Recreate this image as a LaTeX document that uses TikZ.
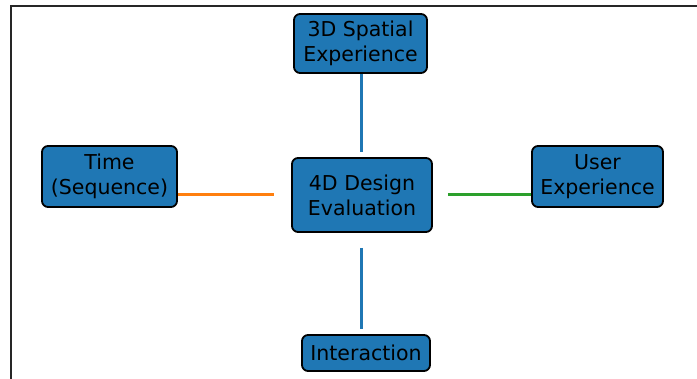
\documentclass[tikz,border=0pt]{standalone}
\usepackage{fontspec}
\setmainfont{DejaVu Sans}
\definecolor{mblue}{HTML}{1F77B4}
\definecolor{morange}{HTML}{FF7F0E}
\definecolor{mgreen}{HTML}{2CA02C}
\pgfdeclarelayer{bg}
\pgfsetlayers{bg,main}
\begin{document}
\begin{tikzpicture}[x=1pt,y=-1pt,
  box/.style={draw=black,line width=1.8pt,fill=mblue,rounded corners=6pt,
    align=center,inner sep=0pt,font=\fontsize{20.5}{25}\selectfont,text=black},
  link/.style={line width=3pt}]
\useasboundingbox (0,0) rectangle (697,379);
\draw[line width=2pt,black!85] (10.5,380) -- (10.5,6) -- (698,6);
\node[box,minimum width=133pt,minimum height=59pt] (spatial) at (360.5,43.5) {3D Spatial\\Experience};
\node[box,minimum width=140pt,minimum height=74pt] (center) at (362,195) {4D Design\\Evaluation};
\node[box,minimum width=135pt,minimum height=61pt] (time) at (109.5,176.5) {Time\\(Sequence)};
\node[box,minimum width=131pt,minimum height=61pt] (user) at (597.5,176.5) {User\\Experience};
\node[box,minimum width=128pt,minimum height=36pt] (inter) at (366,353) {Interaction};
\begin{pgfonlayer}{bg}
\draw[link,mblue] (spatial.south -| 361,0) -- ([yshift=5pt]center.north -| 361,0);
\draw[link,mblue] ([yshift=-15pt]center.south -| 361,0) -- ([yshift=5pt]inter.north -| 361,0);
\draw[link,morange] (time.west |- center) -- ([xshift=-17pt]center.west);
\draw[link,mgreen] ([xshift=15pt]center.east) -- (user.west |- center);
\end{pgfonlayer}
\end{tikzpicture}
\end{document}
